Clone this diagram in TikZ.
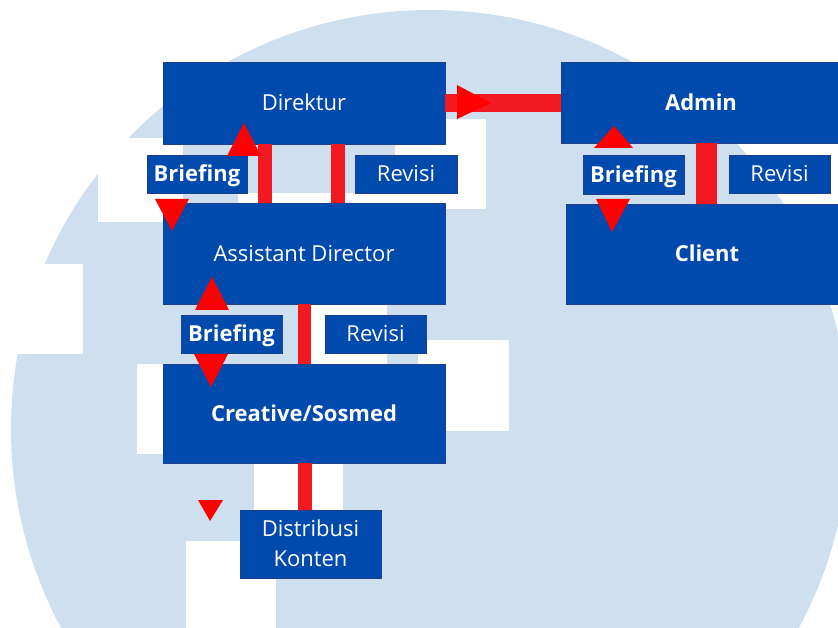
\documentclass[tikz,border=0pt]{standalone}
\usepackage{fontspec}
\setmainfont{Open Sans}
\definecolor{lb}{RGB}{206,224,239}
\definecolor{bx}{RGB}{0,74,173}
\definecolor{bxe}{RGB}{30,64,140}
\definecolor{rb}{RGB}{242,26,32}
\definecolor{rt}{RGB}{255,0,0}
\tikzset{
  box/.style={fill=bx, draw=bxe, line width=0.5pt, inner sep=0pt, text=white,
    font=\fontsize{22}{30}\selectfont, align=center, text height=15.7pt, text depth=0pt},
  boldbox/.style={box, font=\fontsize{22}{30}\selectfont\bfseries},
  twoline/.style={box, text height=45.7pt},
  redbar/.style={draw=rb, line cap=butt},
  tri/.style={fill=rt},
  wblock/.style={fill=white}
}
\begin{document}
\begin{tikzpicture}[x=1pt,y=-1pt]
\useasboundingbox (0,0) rectangle (838,628);
\clip (0,0) rectangle (838,628);
% background watermark
\fill[lb] (430,429) circle[radius=419pt];
\fill[wblock] (98,138) rectangle (183,222);
\fill[wblock] (0,264) rectangle (83,354);
\fill[wblock] (137,364) rectangle (200,454);
\fill[wblock] (186,541) rectangle (276,628);
\fill[wblock] (254,464) rectangle (343,541);
\fill[wblock] (418,340) rectangle (509,431);
\fill[wblock] (395,119) rectangle (486,209);
\fill[wblock] (238,193) rectangle (395,215);
\fill[wblock] (310,304) rectangle (387,364);
% boxes
\node[box, minimum width=282pt, minimum height=82pt] (dir) at (304,103) {Direktur};
\node[box, minimum width=282pt, minimum height=101pt] (ad) at (304,253.5) {Assistant Director};
\node[boldbox, minimum width=282pt, minimum height=99pt] (cre) at (304,413.5) {Creative/Sosmed};
\node[twoline, minimum width=141pt, minimum height=68pt] (dist) at (310.5,544) {Distribusi\\Konten};
\node[boldbox, minimum width=280pt, minimum height=81pt] (adm) at (701,102.5) {Admin};
\node[boldbox, minimum width=282pt, minimum height=100pt] (cli) at (707,254) {Client};
\node[boldbox, minimum width=100pt, minimum height=38pt] (b1) at (197,174) {Briefing};
\node[box, minimum width=102pt, minimum height=38pt] (r1) at (406,174) {Revisi};
\node[boldbox, minimum width=101pt, minimum height=38pt] (b2) at (231.5,334) {Briefing};
\node[box, minimum width=101pt, minimum height=38pt] (r2) at (375.5,334) {Revisi};
\node[boldbox, minimum width=101pt, minimum height=39pt] (b3) at (633.5,174.5) {Briefing};
\node[box, minimum width=101pt, minimum height=38pt] (r3) at (779.5,174) {Revisi};
% connectors
\coordinate (xa) at (265,0);
\coordinate (xb) at (338,0);
\coordinate (xc) at (304,0);
\coordinate (xd) at (304.5,0);
\coordinate (xe) at (706.5,0);
\draw[redbar, line width=14pt] (dir.south -| xa) -- (ad.north -| xa);
\draw[redbar, line width=14pt] (dir.south -| xb) -- (ad.north -| xb);
\draw[redbar, line width=13pt] (ad.south -| xc) -- (cre.north -| xc);
\draw[redbar, line width=14pt] (cre.south -| xd) -- (dist.north -| xd);
\draw[redbar, line width=18pt] (dir.east) -- (dir.east -| adm.west);
\draw[redbar, line width=21pt] (adm.south -| xe) -- (cli.north -| xe);
% arrowheads
\fill[tri] (244,123) -- (261,156) -- (227,156) -- cycle;
\fill[tri] (155,199) -- (189,199) -- (172,231) -- cycle;
\fill[tri] (212,277) -- (229,310) -- (195,310) -- cycle;
\fill[tri] (194,354) -- (228,354) -- (211,387) -- cycle;
\fill[tri] (198,500) -- (223,500) -- (210,521) -- cycle;
\fill[tri] (457,85) -- (491,103) -- (457,119) -- cycle;
\fill[tri] (614,126) -- (633,148) -- (594,148) -- cycle;
\fill[tri] (596,199) -- (630,199) -- (612,232) -- cycle;
\end{tikzpicture}
\end{document}
